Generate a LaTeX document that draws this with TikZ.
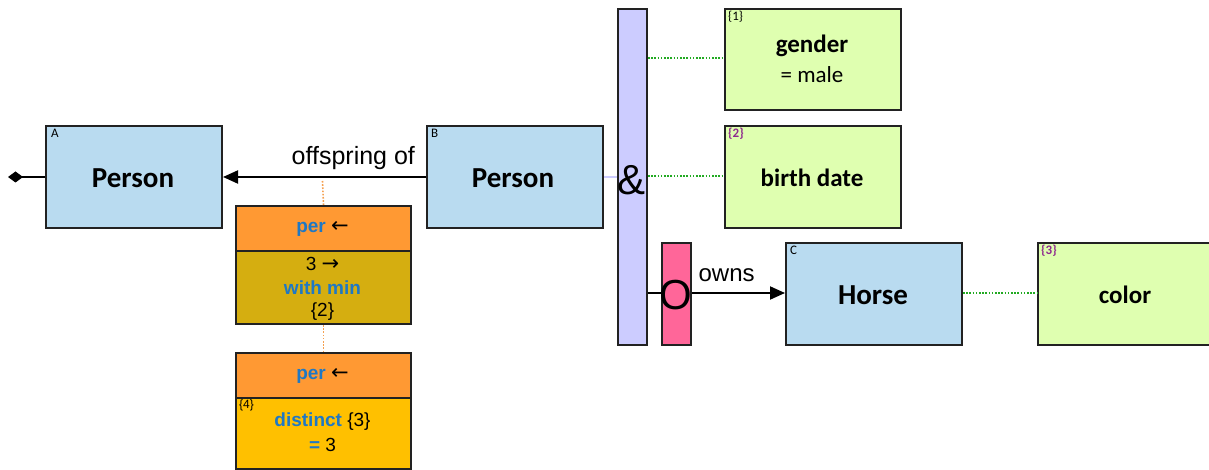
\documentclass[tikz,border=0pt]{standalone}
\usepackage{fontspec}
\setmainfont{Liberation Sans}
\newfontfamily\calf{Carlito}
\newfontfamily\arrfont{DejaVu Sans}
\usetikzlibrary{arrows.meta}
\definecolor{bluebox}{HTML}{B9DBF0}
\definecolor{greenbox}{HTML}{DFFFB0}
\definecolor{lavbar}{HTML}{CCCCFF}
\definecolor{pinkbar}{HTML}{FF6699}
\definecolor{orangebox}{HTML}{FF9933}
\definecolor{olivebox}{HTML}{D5AE10}
\definecolor{goldbox}{HTML}{FFC000}
\definecolor{bluetxt}{HTML}{1F78C4}
\definecolor{purpletxt}{HTML}{8E2A8E}
\definecolor{edge}{HTML}{222222}
\definecolor{greendot}{HTML}{22AA22}
\definecolor{orangedot}{HTML}{F5A050}
\newcommand{\larr}{\textcolor{black}{\arrfont\mdseries\fontsize{21}{22}\selectfont ←}}
\newcommand{\rarr}{{\arrfont\fontsize{21}{22}\selectfont →}}
\tikzset{
  box/.style={draw=edge, line width=2pt, inner sep=0pt, anchor=north west},
  entity/.style={box, fill=bluebox, minimum width=176, minimum height=102},
  attr/.style={box, fill=greenbox, minimum width=176, minimum height=102},
  title/.style={font=\calf\bfseries\fontsize{29}{32}\selectfont},
  atitle/.style={font=\calf\bfseries\fontsize{25}{28}\selectfont},
  tag/.style={font=\calf\fontsize{13}{14}\selectfont, anchor=north west, inner sep=0pt},
  ptag/.style={font=\calf\bfseries\fontsize{13}{14}\selectfont, text=purpletxt, anchor=north west, inner sep=0pt},
  gdot/.style={draw=greendot, line width=1.6pt, dash pattern=on 1.6pt off 1.6pt},
  odot/.style={draw=orangedot, line width=1.6pt, dash pattern=on 1.6pt off 1.6pt},
  conn/.style={draw=black, line width=2pt},
  perbox/.style={box, minimum width=175},
  ptext/.style={font=\fontsize{19}{20}\selectfont},
  pblue/.style={font=\bfseries\fontsize{19}{20}\selectfont, text=bluetxt},
}
\begin{document}
\begin{tikzpicture}[x=1pt,y=-1pt]
\useasboundingbox (0,0) rectangle (1209,470);
% entities
\node[entity] (A) at (45,125) {};
\node[title] at (133,178) {Person};
\node[tag] at (51,129) {A};
\node[entity] (B) at (426,125) {};
\node[title] at (513,178) {Person};
\node[tag] at (431,129) {B};
\node[entity] (C) at (785,242) {};
\node[title] at (873,295) {Horse};
\node[tag] at (790,246) {C};
% attributes
\node[attr, minimum height=101] (G) at (724,8) {};
\node[atitle] at (812,46) {gender};
\node[font=\calf\fontsize{23}{25}\selectfont] at (812,75) {= male};
\node[tag] at (728,11) {\{1\}};
\node[attr] (BD) at (724,125) {};
\node[atitle] at (812,178) {birth date};
\node[ptag] at (728,128) {\{2\}};
\node[attr, minimum width=175] (CO) at (1037,242) {};
\node[atitle] at (1125,295) {color};
\node[ptag] at (1041,245) {\{3\}};
% bars
\node[box, fill=lavbar, minimum width=29, minimum height=336] (AND) at (617,8) {};
\node[font=\fontsize{42}{42}\selectfont] at (631.5,180) {\&};
\node[box, fill=pinkbar, minimum width=29, minimum height=102] (OR) at (661,242) {};
\node[font=\fontsize{42}{42}\selectfont] at (675.5,295) {O};
% per boxes
\node[perbox, fill=orangebox, minimum height=45] (P1) at (235,205) {};
\node[pblue] at (322.5,229) {per \larr};
\node[perbox, fill=olivebox, minimum height=73] (P1b) at (235,250) {};
\node[ptext] at (322.5,264) {3 \rarr};
\node[pblue] at (322.5,288) {with min};
\node[ptext] at (322.5,312) {\{2\}};
\node[perbox, fill=orangebox, minimum height=45] (P2) at (235,352) {};
\node[pblue] at (322.5,376) {per \larr};
\node[perbox, fill=goldbox, minimum height=71] (P2b) at (235,397) {};
\node[tag, font=\fontsize{12}{13}\selectfont] at (239,400) {\{4\}};
\node[ptext] at (322.5,422) {\textcolor{bluetxt}{\bfseries distinct} \{3\}};
\node[ptext] at (322.5,445) {\textcolor{bluetxt}{\bfseries =} 3};
% connectors
\coordinate (dia) at (8,177);
\draw[conn, -{Diamond[length=15,width=11]}] (A.west |- 0,177) -- (dia);
\draw[conn, -{Triangle[length=15,width=13]}] (B.west |- 0,177) -- node[pos=0.02, above left, inner sep=6pt, font=\fontsize{25}{27}\selectfont]{offspring of} (A.east |- 0,177);
\coordinate (o1) at (322.5,181);
\draw[odot] (o1) -- (P1.north);
\draw[odot] (P1b.south) -- (P2.north);
\draw[draw=lavbar, line width=2pt] (B.east |- 0,177) -- (AND.west |- 0,177);
\draw[gdot] (AND.east |- 0,58) -- (G.west |- 0,58);
\draw[gdot] (AND.east |- 0,176) -- (BD.west |- 0,176);
\draw[conn] (AND.east |- 0,293) -- (OR.west |- 0,293);
\draw[conn, -{Triangle[length=15,width=13]}] (OR.east |- 0,293) -- node[pos=0.06, above right, inner sep=0pt, yshift=10pt, font=\fontsize{24}{26}\selectfont]{owns} (C.west |- 0,293);
\draw[gdot] (C.east |- 0,293) -- (CO.west |- 0,293);
\end{tikzpicture}
\end{document}
